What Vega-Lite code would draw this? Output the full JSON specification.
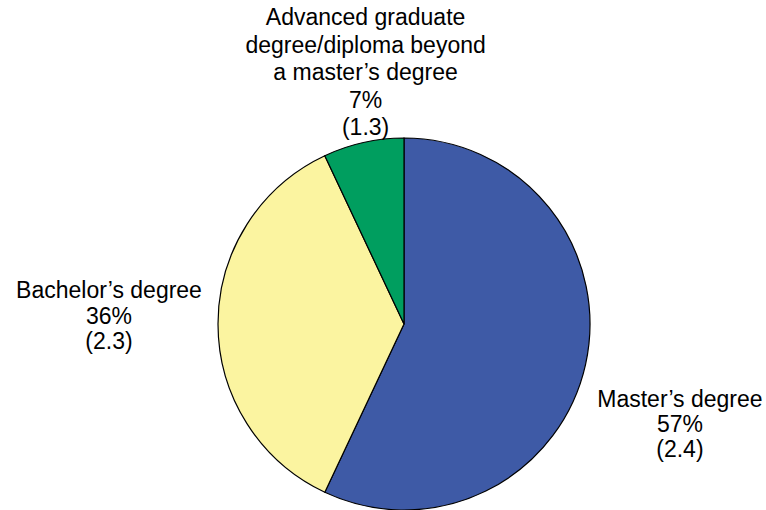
{
  "$schema": "https://vega.github.io/schema/vega-lite/v6.json",
  "autosize": {"type": "none"},
  "padding": {"left": 42, "top": 138, "right": 0, "bottom": 0},
  "width": 724,
  "height": 372,
  "background": "white",
  "config": {"view": {"stroke": null}, "text": {"font": "Liberation Sans"}},
  "data": {
    "values": [
      {"idx": 1, "category": "Master’s degree", "pct": 57, "label": "Master’s degree\n57%\n(2.4)"},
      {"idx": 2, "category": "Bachelor’s degree", "pct": 36, "label": "Bachelor’s degree\n36%\n(2.3)"},
      {"idx": 3, "category": "Advanced graduate degree/diploma beyond a master’s degree", "pct": 7, "label": "Advanced graduate\ndegree/diploma beyond\na master’s degree\n7%\n(1.3)"}
    ]
  },
  "layer": [
    {
      "mark": {"type": "arc", "radius": 186, "stroke": "black", "strokeWidth": 1.2},
      "encoding": {
        "theta": {"field": "pct", "type": "quantitative", "stack": true},
        "order": {"field": "idx", "type": "quantitative"},
        "color": {
          "field": "category", "type": "nominal", "legend": null,
          "scale": {
            "domain": ["Master’s degree", "Bachelor’s degree", "Advanced graduate degree/diploma beyond a master’s degree"],
            "range": ["#3E5AA6", "#FBF4A0", "#009E5F"]
          }
        }
      }
    },
    {
      "mark": {"type": "text", "radius": 294, "dx": -11, "dy": 12, "fontSize": 23, "lineHeight": 25, "lineBreak": "\n", "align": "center", "baseline": "middle", "color": "black"},
      "encoding": {
        "theta": {"field": "pct", "type": "quantitative", "stack": true},
        "order": {"field": "idx", "type": "quantitative"},
        "text": {"condition": {"test": "datum.idx === 1", "field": "label"}, "value": ""}
      }
    },
    {
      "mark": {"type": "text", "radius": 295, "dy": -33, "fontSize": 23, "lineHeight": 25.5, "lineBreak": "\n", "align": "center", "baseline": "middle", "color": "black"},
      "encoding": {
        "theta": {"field": "pct", "type": "quantitative", "stack": true},
        "order": {"field": "idx", "type": "quantitative"},
        "text": {"condition": {"test": "datum.idx === 2", "field": "label"}, "value": ""}
      }
    },
    {
      "mark": {"type": "text", "radius": 254, "dx": 17, "dy": -58, "fontSize": 23, "lineHeight": 27.5, "lineBreak": "\n", "align": "center", "baseline": "middle", "color": "black"},
      "encoding": {
        "theta": {"field": "pct", "type": "quantitative", "stack": true},
        "order": {"field": "idx", "type": "quantitative"},
        "text": {"condition": {"test": "datum.idx === 3", "field": "label"}, "value": ""}
      }
    }
  ]
}
